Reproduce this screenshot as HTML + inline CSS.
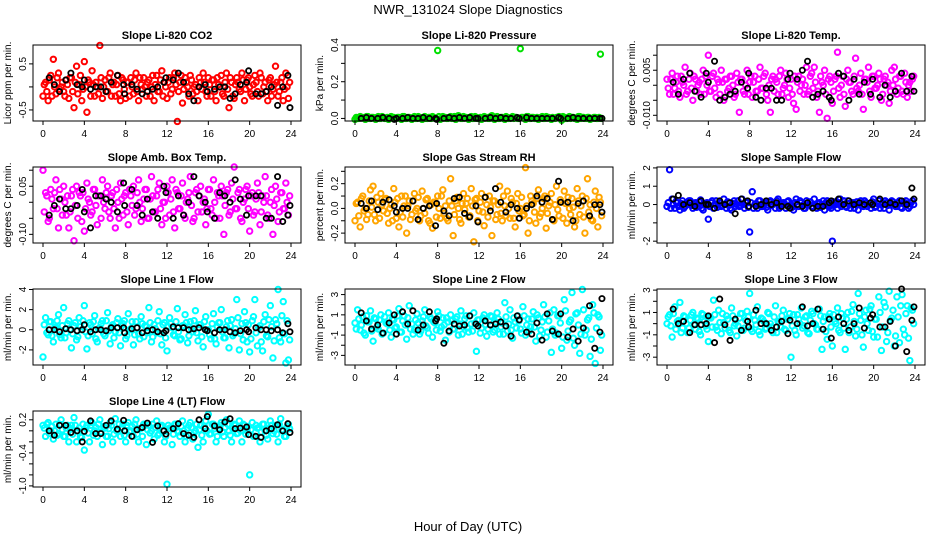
<!DOCTYPE html>
<html><head><meta charset="utf-8"><style>
html,body{margin:0;padding:0;background:#fff;}
svg{display:block;font-family:"Liberation Sans",sans-serif;}
</style></head><body>
<svg id="chart" width="936" height="540" viewBox="0 0 936 540" xmlns="http://www.w3.org/2000/svg">
<rect width="936" height="540" fill="#fff"/>
<text x="468" y="14" text-anchor="middle" font-size="13">NWR_131024  Slope Diagnostics</text>
<text x="468" y="531" text-anchor="middle" font-size="13">Hour of Day (UTC)</text>
</svg>
<script>
const hoursColored = [0,0.25,0.5,0.75,1,1.25,1.5,1.75,2,2.25,2.5,2.75,3,3.25,3.5,3.75,4,4.25,4.5,4.75,5,5.25,5.5,5.75,6,6.25,6.5,6.75,7,7.25,7.5,7.75,8,8.25,8.5,8.75,9,9.25,9.5,9.75,10,10.25,10.5,10.75,11,11.25,11.5,11.75,12,12.25,12.5,12.75,13,13.25,13.5,13.75,14,14.25,14.5,14.75,15,15.25,15.5,15.75,16,16.25,16.5,16.75,17,17.25,17.5,17.75,18,18.25,18.5,18.75,19,19.25,19.5,19.75,20,20.25,20.5,20.75,21,21.25,21.5,21.75,22,22.25,22.5,22.75,23,23.25,23.5,23.75];
const hoursColored2 = [0.12,0.37,0.62,0.87,1.12,1.37,1.62,1.87,2.12,2.37,2.62,2.87,3.12,3.37,3.62,3.87,4.12,4.37,4.62,4.87,5.12,5.37,5.62,5.87,6.12,6.37,6.62,6.87,7.12,7.37,7.62,7.87,8.12,8.37,8.62,8.87,9.12,9.37,9.62,9.87,10.12,10.37,10.62,10.87,11.12,11.37,11.62,11.87,12.12,12.37,12.62,12.87,13.12,13.37,13.62,13.87,14.12,14.37,14.62,14.87,15.12,15.37,15.62,15.87,16.12,16.37,16.62,16.87,17.12,17.37,17.62,17.87,18.12,18.37,18.62,18.87,19.12,19.37,19.62,19.87,20.12,20.37,20.62,20.87,21.12,21.37,21.62,21.87,22.12,22.37,22.62,22.87,23.12,23.37,23.62,23.87];
const hoursBlack = [0.6,1.1,1.6,2.2,2.7,3.3,3.8,4.0,4.6,5.1,5.6,6.1,6.6,7.2,7.8,7.9,8.6,9.1,9.6,10.1,10.6,11.1,11.7,11.9,12.6,13.1,13.6,14.1,14.6,15.1,15.7,15.9,16.6,17.1,17.6,18.1,18.6,19.1,19.7,19.9,20.6,21.1,21.6,22.1,22.7,23.2,23.7,23.9];

const co2Colored = [-0.2,0.1,-0.3,0.25,0.6,-0.15,0.3,0.0,-0.1,0.15,-0.25,0.2,-0.45,0.45,0.05,-0.3,0.55,-0.55,0.1,0.35,-0.2,0.0,0.9,-0.25,0.15,-0.1,0.3,0.05,-0.2,0.25,-0.3,0.15,-0.25,0.1,0.2,-0.15,0.3,-0.3,0.05,0.2,-0.2,0.15,0.0,-0.3,0.25,-0.1,0.35,0.1,-0.25,0.2,-0.05,0.3,-0.75,0.1,-0.35,0.2,0.0,0.25,-0.15,0.05,-0.3,0.1,0.3,-0.1,0.2,-0.2,0.15,-0.3,0.05,0.25,-0.2,0.3,-0.45,0.1,-0.25,0.2,-0.05,0.3,-0.3,0.15,0.0,-0.2,0.25,-0.1,0.3,-0.15,0.1,-0.3,0.2,-0.05,0.45,-0.2,0.1,-0.3,0.3,-0.25];
const co2Colored2 = [0.05,-0.1,0.15,-0.2,0.0,0.2,-0.05,0.1,-0.2,0.05,0.2,-0.1,0.1,-0.15,0.25,-0.05,0.0,0.15,-0.2,0.05,0.1,-0.15,0.2,0.0,-0.1,0.2,-0.2,0.1,0.05,-0.15,0.2,-0.05,0.1,-0.2,0.0,0.15,-0.1,0.2,-0.05,0.0,0.1,-0.2,0.25,0.05,-0.1,0.15,-0.2,0.0,0.1,-0.15,0.2,0.05,-0.1,0.25,-0.05,0.1,-0.2,0.15,0.0,-0.1,0.2,-0.05,0.1,-0.2,0.05,0.15,-0.1,0.2,0.0,-0.15,0.1,-0.05,0.2,-0.2,0.05,0.1,-0.1,0.15,-0.05,0.2,-0.15,0.05,0.1,-0.2,0.2,0.0,-0.1,0.15,-0.2,0.05,0.1,-0.1,0.2,-0.05,0.0,0.1];
const co2Black = [0.2,0.05,-0.1,0.15,0.3,0.05,0.0,0.15,-0.05,0.0,0.0,-0.1,0.1,0.25,0.05,-0.15,0.05,-0.05,-0.15,-0.1,-0.05,0.0,0.1,0.2,0.15,0.3,0.1,-0.15,-0.3,0.0,0.05,-0.1,-0.05,0.0,0.0,-0.25,-0.15,0.05,0.1,0.35,-0.15,-0.15,-0.1,0.0,-0.4,0.0,0.25,-0.45];

const pressColored = [-0.005,0.0,0.01,0.005,-0.005,0.01,0.0,0.005,-0.005,0.01,0.0,0.005,0.0,-0.005,0.01,0.005,0.0,0.005,-0.005,0.01,0.0,0.005,-0.005,0.01,0.0,0.005,-0.005,0.01,0.0,0.005,0.01,0.0,0.37,-0.005,0.01,0.005,0.0,0.01,0.005,-0.005,0.015,0.0,0.01,0.005,-0.005,0.01,0.0,0.005,0.0,-0.005,0.01,0.005,0.0,0.015,-0.005,0.01,0.0,0.005,-0.005,0.005,0.0,0.01,0.005,0.0,0.38,0.005,-0.005,0.01,0.0,0.005,0.0,-0.005,0.005,0.0,0.01,0.005,-0.005,0.0,0.005,0.01,-0.01,0.005,0.0,0.01,0.005,0.0,-0.005,0.01,0.005,0.0,0.005,-0.005,0.0,0.005,0.0,0.35];
const pressColored2 = [0.005,0.0,0.005,0.0,0.01,0.0,0.005,0.0,0.005,0.0,0.01,0.0,0.005,0.0,0.005,0.0,0.005,0.0,0.01,0.0,0.005,0.0,0.005,0.0,0.01,0.0,0.005,0.0,0.005,0.0,0.005,0.0,0.01,0.0,0.005,0.0,0.005,0.0,0.01,0.0,0.005,0.0,0.005,0.0,0.005,0.0,0.01,0.0,0.005,0.0,0.005,0.0,0.01,0.0,0.005,0.0,0.005,0.0,0.01,0.0,0.005,0.0,0.005,0.0,0.005,0.0,0.01,0.0,0.005,0.0,0.005,0.0,0.01,0.0,0.005,0.0,0.005,0.0,0.005,0.0,0.01,0.0,0.005,0.0,0.005,0.0,0.01,0.0,0.005,0.0,0.005,0.0,0.005,0.0,0.005,0.0];
const pressBlack = [0.0,0.005,0.0,0.0,0.005,0.0,-0.005,0.0,0.0,0.005,0.0,0.0,0.005,0.0,0.0,-0.005,0.0,0.005,0.0,0.005,0.0,0.005,0.0,0.0,0.0,0.005,0.0,0.005,0.0,0.0,0.005,0.0,0.005,0.0,0.0,0.0,0.0,0.0,0.005,0.0,0.0,0.005,0.0,0.0,0.0,0.0,0.0,0.0];

const tempColored = [0.002,-0.003,0.004,-0.001,0.003,-0.004,0.001,0.006,-0.002,0.004,-0.005,0.002,0.0,-0.003,0.005,0.003,0.010,-0.002,0.004,-0.004,0.001,0.005,-0.005,0.002,-0.001,0.003,-0.004,0.004,-0.009,0.002,-0.003,0.005,0.001,-0.004,0.003,-0.002,0.006,-0.001,0.004,-0.005,-0.009,0.003,0.002,-0.003,0.005,-0.001,0.004,-0.004,0.002,-0.006,-0.008,0.003,0.0,-0.003,0.006,-0.002,0.004,0.006,-0.004,-0.009,0.001,0.005,-0.011,0.003,-0.006,0.002,0.011,-0.004,0.003,-0.007,0.005,0.001,-0.003,0.009,-0.002,0.004,-0.008,0.002,0.006,-0.004,0.003,-0.001,0.004,-0.005,0.002,0.0,-0.006,0.005,0.006,-0.003,0.003,-0.002,0.004,-0.004,0.001,0.002];
const tempColored2 = [-0.001,0.002,-0.003,0.001,-0.002,0.003,0.0,-0.003,0.002,-0.001,0.003,-0.002,0.001,0.002,-0.003,0.0,-0.002,0.003,-0.001,0.002,-0.003,0.001,0.002,-0.002,0.003,0.0,-0.003,0.001,0.002,-0.002,0.0,-0.003,0.003,0.001,-0.002,0.002,-0.001,0.003,-0.003,0.0,0.002,-0.002,0.001,0.003,-0.003,0.0,0.002,-0.001,-0.003,0.003,0.001,-0.002,0.002,0.0,-0.003,0.003,-0.001,0.001,-0.002,0.003,0.0,-0.003,0.002,0.001,-0.002,0.003,-0.001,0.0,-0.003,0.002,0.001,-0.002,0.003,-0.001,0.0,-0.003,0.002,0.001,-0.002,0.003,-0.001,0.0,0.002,-0.003,0.003,0.001,-0.002,0.0,0.002,-0.001,0.003,-0.003,0.001,0.0,-0.002,0.003];
const tempBlack = [0.001,-0.003,0.002,0.004,-0.002,-0.004,0.004,0.001,0.008,-0.005,-0.004,-0.003,-0.002,0.001,-0.001,0.004,-0.004,-0.005,-0.001,-0.001,-0.005,-0.005,0.002,0.004,0.002,0.005,0.008,-0.004,-0.003,-0.002,-0.004,-0.005,0.004,0.003,-0.005,0.002,-0.003,0.001,-0.003,0.002,-0.004,0.000,-0.004,-0.002,0.004,-0.002,0.003,-0.002];

const boxColored = [0.1,0.03,-0.06,0.04,-0.02,0.07,-0.08,0.01,0.05,-0.04,-0.08,0.02,-0.12,0.05,0.03,-0.06,-0.09,0.06,0.0,-0.03,0.04,-0.07,0.02,0.07,-0.02,0.05,-0.05,0.03,-0.08,0.0,0.06,-0.04,0.03,-0.07,0.02,0.05,-0.02,0.07,-0.06,0.01,0.04,-0.05,0.08,-0.03,0.02,0.06,-0.07,0.0,0.05,-0.04,0.07,-0.08,0.03,-0.02,0.06,-0.05,0.01,0.08,-0.06,0.03,-0.03,0.05,0.0,-0.07,0.04,-0.02,0.07,-0.05,0.02,0.05,-0.1,0.03,-0.04,0.06,0.11,-0.02,0.04,-0.06,0.01,0.05,-0.09,0.03,-0.03,0.06,-0.07,0.02,0.08,-0.04,0.0,-0.1,0.05,-0.06,0.03,-0.02,0.06,-0.04];
const boxColored2 = [-0.03,0.02,-0.05,0.01,0.03,-0.02,0.04,-0.04,0.0,0.02,-0.03,0.04,-0.01,-0.05,0.02,0.03,-0.02,0.01,-0.04,0.04,-0.01,0.02,-0.05,0.0,0.03,-0.03,0.02,-0.02,0.04,-0.05,0.01,0.02,-0.03,0.04,-0.01,-0.04,0.03,0.0,-0.02,0.04,-0.05,0.01,0.02,-0.03,0.04,-0.02,0.0,-0.05,0.03,0.01,-0.03,0.04,-0.02,0.02,-0.04,0.0,0.03,-0.01,-0.05,0.04,0.02,-0.03,0.01,-0.02,0.04,-0.04,0.0,0.03,-0.05,0.02,-0.01,0.04,-0.03,0.01,-0.02,0.03,-0.05,0.0,0.04,-0.02,0.02,-0.04,0.01,0.03,-0.03,0.0,0.02,-0.05,0.04,-0.01,0.01,-0.03,0.03,-0.02,0.0,0.02];
const boxBlack = [-0.04,-0.01,0.01,-0.02,-0.02,-0.01,0.04,-0.03,-0.08,0.02,0.02,0.01,0.0,-0.03,0.06,-0.01,0.04,-0.01,-0.04,0.01,-0.03,-0.05,0.05,0.03,-0.05,0.02,-0.04,0.0,0.08,0.02,0.0,-0.03,-0.05,0.03,0.02,0.0,0.07,0.01,-0.04,0.02,0.02,0.02,-0.05,-0.05,0.08,-0.06,-0.04,-0.01];

const rhColored = [-0.1,0.05,-0.15,0.1,0.0,-0.05,0.15,0.18,-0.1,0.05,0.12,-0.02,0.08,-0.12,0.03,0.16,-0.08,-0.15,0.1,0.02,-0.2,0.06,-0.05,0.12,0.0,-0.1,0.14,-0.04,0.08,-0.12,-0.16,0.05,0.1,-0.08,0.15,0.02,-0.1,0.24,-0.22,0.06,0.0,-0.12,0.12,0.04,-0.07,0.16,-0.27,0.08,-0.02,0.12,-0.14,0.03,0.1,-0.22,0.06,-0.05,0.18,-0.1,0.02,0.14,-0.08,0.05,-0.15,0.12,0.0,-0.06,0.33,-0.2,0.1,0.04,-0.12,0.15,-0.04,0.08,-0.16,0.02,0.12,-0.1,0.18,-0.06,0.05,0.14,-0.12,0.0,0.08,-0.15,0.16,-0.05,0.1,-0.2,0.24,0.03,-0.1,0.14,-0.15,0.05];
const rhColored2 = [0.04,-0.06,0.08,-0.02,-0.09,0.06,0.01,-0.05,0.09,-0.08,0.03,0.07,-0.04,0.0,-0.1,0.05,0.08,-0.03,-0.07,0.1,0.02,-0.09,0.06,-0.02,0.09,-0.06,0.0,0.07,-0.1,0.03,0.05,-0.07,0.0,0.1,-0.04,-0.08,0.06,0.02,-0.05,0.09,-0.09,0.04,-0.01,0.08,-0.06,0.02,0.07,-0.1,0.05,-0.03,0.09,-0.07,0.01,0.06,-0.09,0.03,-0.04,0.1,-0.06,0.0,0.08,-0.08,0.04,-0.02,0.09,-0.05,0.02,-0.1,0.06,-0.03,0.08,-0.07,0.0,0.1,-0.04,0.05,-0.09,0.03,-0.01,0.07,-0.08,0.04,0.09,-0.05,0.01,-0.1,0.06,0.02,-0.07,0.08,-0.03,-0.09,0.05,0.0,0.09,-0.06];
const rhBlack = [0.04,0.0,0.06,-0.01,0.05,0.07,0.02,-0.03,0.0,0.0,0.06,-0.09,0.0,0.02,-0.14,0.04,-0.02,-0.06,0.08,0.09,-0.04,-0.07,0.02,-0.11,0.09,-0.02,0.16,0.05,-0.03,0.03,0.0,-0.08,0.0,0.03,0.1,0.05,0.08,-0.09,0.22,0.05,0.05,-0.1,0.04,0.06,-0.06,0.03,0.03,-0.03];

const sampleColored = [-0.1,1.9,0.3,-0.2,0.1,-0.3,0.2,-0.1,0.0,0.2,-0.2,0.1,-0.1,0.25,-0.3,0.0,-0.8,0.1,-0.2,0.2,0.0,-0.1,0.3,-0.2,0.1,-0.3,0.2,0.0,-0.1,0.3,-0.2,0.1,-1.5,0.7,0.0,-0.2,0.2,-0.1,0.1,-0.3,0.2,0.0,-0.2,0.3,-0.1,0.1,-0.2,0.2,0.0,-0.3,0.3,-0.1,0.1,-0.2,0.2,0.0,-0.1,0.3,-0.2,0.1,0.0,-0.3,0.2,-0.1,-2.0,0.1,-0.2,0.3,0.0,-0.1,0.2,-0.2,0.1,0.0,-0.3,0.2,-0.1,0.1,0.0,-0.2,0.3,-0.1,0.2,0.0,-0.2,0.1,-0.3,0.2,0.0,-0.1,0.2,-0.2,0.1,0.0,-0.1,0.2];
const sampleColored2 = [0.1,-0.2,0.0,0.15,-0.1,0.05,-0.2,0.1,0.2,-0.05,0.0,-0.15,0.15,-0.2,0.05,0.1,-0.1,0.2,0.0,-0.15,0.1,-0.05,0.0,0.15,-0.2,0.05,-0.1,0.2,-0.05,0.0,0.15,-0.15,0.1,-0.2,0.05,0.2,-0.1,0.0,-0.15,0.15,-0.05,0.1,0.2,-0.2,0.0,0.05,0.15,-0.1,-0.15,0.1,0.0,0.2,-0.05,-0.2,0.1,0.15,-0.1,0.0,0.05,-0.15,0.2,0.1,-0.05,-0.2,0.15,0.0,0.1,-0.1,0.2,-0.15,0.05,0.0,-0.2,0.15,0.1,-0.05,0.2,-0.1,0.0,0.15,-0.15,0.05,-0.2,0.1,0.2,-0.05,0.0,0.15,-0.1,0.1,-0.15,0.05,0.2,-0.2,0.1,0.0];
const sampleBlack = [0.3,0.5,0.0,0.1,-0.1,0.2,0.0,0.0,-0.2,0.2,0.0,0.1,-0.5,0.3,0.2,-0.1,-0.1,0.0,0.2,0.0,0.1,-0.1,-0.1,-0.2,0.0,-0.1,0.1,-0.2,-0.1,-0.1,0.1,0.2,0.3,0.0,0.2,0.0,0.1,0.0,0.1,0.0,0.3,0.0,0.1,0.0,0.2,0.0,0.9,0.3];

const line1Colored = [-2.7,1.2,-0.5,0.8,-1.2,0.3,1.5,-0.8,2.2,-0.3,0.9,-1.8,0.4,-1.0,1.2,0.0,2.4,-1.9,0.7,-0.4,1.4,-1.2,0.2,0.9,-0.6,1.7,-1.4,0.5,-0.2,1.1,-1.6,0.6,-0.9,1.6,0.1,-1.5,0.8,-0.4,1.3,-0.7,0.3,2.2,-1.2,0.5,-0.3,1.8,-1.5,0.7,-2.1,1.2,0.2,-0.6,2.1,-1.0,0.4,1.5,-1.3,0.8,-0.2,1.9,-1.1,0.5,-1.7,1.3,0.0,-0.9,1.6,-1.4,0.7,2.0,-0.8,0.3,-1.8,1.0,-0.4,3.0,-2.0,0.6,1.8,-1.2,-2.2,0.9,3.0,-1.6,0.4,-2.1,1.5,-0.7,2.4,-2.8,1.0,4.0,-1.2,2.8,-3.3,-3.0];
const line1Colored2 = [0.5,-0.3,0.8,-0.6,0.2,0.9,-0.5,0.4,-0.8,0.6,0.0,-0.4,0.7,-0.7,0.3,0.9,-0.2,-0.6,0.5,0.8,-0.9,0.1,0.6,-0.4,0.9,-0.1,0.3,-0.8,0.7,-0.3,0.4,0.9,-0.6,0.0,0.8,-0.5,0.2,-0.9,0.6,0.4,-0.3,0.7,-0.7,0.1,0.9,-0.4,0.5,-0.8,0.3,0.6,-0.5,0.8,-0.2,-0.9,0.4,0.7,-0.6,0.1,0.9,-0.3,0.5,-0.7,0.8,0.0,-0.5,0.6,-0.9,0.3,0.7,-0.2,-0.8,0.9,0.4,-0.6,0.1,1.2,-0.4,-1.0,0.7,0.5,-0.9,1.3,-0.3,0.2,-1.2,0.8,-0.6,1.0,0.3,-1.1,0.6,-0.8,1.4,-0.4,0.9,-1.0];
const line1Black = [0.0,0.0,-0.2,0.1,0.0,-0.1,0.0,0.5,-0.2,0.0,0.0,-0.1,0.2,0.2,0.2,-0.3,0.1,0.2,-0.3,-0.1,0.0,-0.2,-0.3,-0.1,0.3,0.2,0.2,0.0,0.1,0.2,0.0,-0.1,-0.3,0.0,0.0,-0.2,-0.3,-0.1,0.0,-0.2,0.2,0.0,0.0,-0.1,0.0,-0.3,0.6,-0.2];

const line2Colored = [0.2,1.5,-0.5,0.8,-1.0,0.3,1.4,-1.6,0.6,-0.4,1.0,-0.8,0.2,1.2,-1.2,0.5,-0.2,1.6,-0.7,0.9,-1.4,1.9,0.1,-0.5,1.1,-0.9,0.4,1.5,-0.3,0.8,-1.2,0.2,1.3,-0.6,0.7,-1.5,0.3,1.0,-0.4,0.6,-1.0,1.4,-0.2,0.9,-0.7,0.1,1.2,-2.6,0.5,-0.3,1.0,-1.1,0.4,0.8,-0.5,1.2,-0.9,0.2,2.2,-0.6,1.5,-1.3,0.3,0.9,-0.4,1.8,-1.0,0.6,-0.2,1.3,-1.6,0.7,-0.5,2.0,-1.2,0.4,-2.7,1.5,-0.8,0.9,-2.3,2.5,-1.5,0.3,3.2,-2.0,1.2,-2.8,3.5,-1.0,0.5,-3.1,2.0,-3.8,1.0,-2.5];
const line2Colored2 = [-0.4,0.6,0.0,-0.8,0.9,0.3,-0.6,0.7,-0.2,0.5,-0.9,0.8,0.1,-0.5,0.6,-0.3,0.9,-0.7,0.4,0.0,0.7,-0.4,-0.9,0.5,0.2,-0.6,0.8,-0.1,-0.8,0.6,0.3,-0.5,0.9,-0.2,0.0,0.7,-0.7,0.4,-0.4,0.8,0.1,-0.9,0.6,-0.3,0.9,-0.6,0.2,0.5,-0.8,0.7,0.0,-0.4,0.9,-0.7,0.3,0.6,-0.2,-0.9,0.8,0.1,-0.5,0.7,-0.3,0.4,-0.8,0.9,0.0,-0.6,0.6,-0.2,1.0,-1.1,0.3,0.8,-0.7,1.2,-0.4,-1.0,0.9,0.2,-1.2,1.4,-0.6,0.5,-1.3,1.1,0.0,-0.9,1.5,-0.5,0.7,-1.4,1.2,-0.3,0.8,-1.0];
const line2Black = [1.2,0.4,-0.4,0.0,-0.8,0.2,1.0,-0.9,1.3,0.1,1.4,-0.5,0.0,1.3,0.4,0.6,-1.8,-0.6,0.1,-0.1,0.0,0.9,0.1,-0.1,0.4,0.0,0.1,0.3,-0.1,-1.1,0.9,0.5,-0.7,-0.9,0.2,-1.5,1.1,-0.6,-0.9,1.1,-1.2,-0.4,-1.6,-0.3,1.9,-2.3,-0.7,2.6];

const line3Colored = [0.0,0.8,-1.2,1.5,0.2,1.9,-0.4,0.6,-0.8,0.3,1.0,-0.5,0.4,-1.0,0.8,-0.2,-1.6,0.5,2.1,-0.3,1.2,-0.9,0.1,0.7,-0.6,1.4,-0.2,-1.1,0.5,0.9,-0.4,1.1,2.7,-0.7,0.3,1.5,-1.0,0.4,-0.5,1.0,0.0,-0.8,1.6,0.2,-0.3,1.2,-0.6,0.5,-3.0,0.8,-1.0,0.4,1.4,-0.2,0.7,-0.9,1.1,0.0,-0.5,1.3,-2.3,0.6,-1.4,0.9,-2.0,0.2,1.4,-0.8,0.5,-2.3,1.0,-0.3,1.7,-1.1,2.7,0.3,-2.1,1.2,-0.6,1.6,-1.2,0.4,2.4,-2.4,1.9,-1.6,2.9,0.5,-2.0,2.4,-1.7,2.6,-1.0,1.6,-3.3,1.2];
const line3Colored2 = [0.6,-0.2,0.9,-0.5,0.3,-0.8,0.7,0.0,-0.4,0.8,-0.1,0.5,-0.7,0.9,0.2,-0.5,0.6,-0.3,0.8,-0.6,0.1,0.9,-0.4,0.4,-0.8,0.7,0.0,-0.2,0.9,-0.6,0.3,0.6,-0.5,0.8,-0.1,-0.7,0.5,0.2,-0.4,0.9,-0.3,0.6,-0.8,0.1,0.7,-0.5,0.4,0.9,-0.2,-0.6,0.8,0.0,-0.4,0.6,-0.8,0.3,0.9,-0.1,-0.5,0.7,0.2,-0.7,0.6,-0.3,0.8,0.0,-0.6,0.9,-0.4,0.4,-0.8,1.1,0.2,-0.5,0.9,-1.0,0.6,0.0,1.3,-0.7,0.4,-1.2,1.0,-0.3,1.5,-0.8,0.3,1.2,-1.1,0.6,1.6,-0.5,0.9,-1.3,1.4,0.0];
const line3Black = [1.3,0.0,0.2,-0.8,-0.1,-0.1,0.0,0.7,-1.7,2.2,-0.1,-1.5,0.4,-0.6,0.2,-0.3,1.2,0.0,0.0,-0.6,-0.3,0.2,-0.9,0.3,0.0,1.5,-0.2,0.0,1.3,-0.5,0.4,-1.3,0.6,0.0,-0.6,0.0,1.4,-0.4,0.5,0.8,-0.3,-0.3,0.2,-2.0,3.1,-2.5,0.3,1.5];

const line4Colored = [0.1,-0.1,0.15,0.0,-0.15,0.12,-0.05,0.2,-0.1,0.05,-0.2,0.1,0.24,-0.2,0.05,-0.12,-0.35,0.1,-0.2,0.15,0.0,-0.1,0.2,-0.25,0.05,-0.1,0.15,-0.2,0.22,0.0,-0.1,0.12,-0.2,0.15,0.0,-0.1,0.2,-0.2,0.05,0.12,-0.25,0.1,0.0,-0.15,0.18,-0.05,0.1,-0.2,-0.97,0.05,-0.25,0.12,0.0,-0.1,0.18,-0.2,0.05,0.15,-0.15,0.0,-0.3,0.1,-0.2,0.18,0.3,-0.05,0.12,-0.2,0.05,0.15,-0.1,0.2,0.0,-0.2,0.12,-0.05,0.18,-0.2,0.1,0.0,-0.8,0.15,-0.1,0.05,-0.2,0.12,0.0,-0.15,0.18,-0.05,0.1,-0.2,0.22,0.0,-0.1,0.12];
const line4Colored2 = [0.05,0.12,-0.05,0.08,0.0,-0.08,0.12,0.02,-0.1,0.1,0.04,-0.06,0.1,0.0,-0.1,0.12,0.05,-0.04,0.1,-0.08,0.06,0.12,-0.02,0.08,-0.1,0.04,0.1,-0.06,0.0,0.12,0.06,-0.08,0.1,-0.02,0.08,0.12,-0.06,0.04,-0.1,0.1,0.02,-0.04,0.12,0.06,-0.08,0.08,0.0,-0.1,0.1,0.04,-0.06,0.12,-0.02,0.08,0.0,-0.1,0.1,0.06,-0.04,0.12,0.02,-0.08,0.08,0.0,-0.06,0.12,0.04,-0.1,0.1,-0.02,0.06,0.12,-0.08,0.04,0.1,-0.04,0.0,0.12,-0.06,0.08,0.02,-0.1,0.1,0.06,-0.02,0.12,-0.08,0.04,0.1,0.0,-0.06,0.12,0.02,-0.1,0.08,0.04];
const line4Black = [0.0,-0.08,0.1,0.1,-0.03,0.0,-0.2,-0.01,0.18,-0.05,-0.05,0.1,0.18,0.03,0.19,0.0,-0.1,0.02,0.06,0.14,-0.21,0.09,0.0,-0.06,0.04,0.13,-0.05,-0.08,-0.12,0.2,0.04,0.26,0.09,0.02,0.16,0.22,0.04,0.05,0.07,-0.07,-0.1,-0.12,0.0,0.04,0.11,0.0,0.13,-0.03];

const panelTitles = ["Slope Li-820 CO2","Slope Li-820 Pressure","Slope Li-820 Temp.","Slope Amb. Box Temp.","Slope Gas Stream RH","Slope Sample Flow","Slope Line 1 Flow","Slope Line 2 Flow","Slope Line 3 Flow","Slope Line 4 (LT) Flow"];
const yTitles = ["Licor ppm per min.","kPa per min.","degrees C per min.","degrees C per min.","percent per min.","ml/min per min.","ml/min per min.","ml/min per min.","ml/min per min.","ml/min per min."];
const xTicks = [0,4,8,12,16,20,24];

const panels = [
 {c:0,r:0,top:0.91,bot:-0.74,ticks:[-0.5,0,0.5],labels:{"-0.5":"-0.5","0.5":"0.5"},col:"#ff0000",cd:co2Colored,cd2:co2Colored2,bd:co2Black,name:"co2"},
 {c:1,r:0,top:0.4,bot:-0.014,ticks:[0,0.1,0.2,0.3,0.4],labels:{"0":"0.0","0.2":"0.2","0.4":"0.4"},col:"#00e000",cd:pressColored,cd2:pressColored2,bd:pressBlack,name:"pressure"},
 {c:2,r:0,top:0.0134,bot:-0.0119,ticks:[-0.01,-0.005,0,0.005,0.01],labels:{"-0.01":"-0.010","0.005":"0.005"},col:"#ff00ff",cd:tempColored,cd2:tempColored2,bd:tempBlack,name:"li820-temp"},
 {c:0,r:1,top:0.11,bot:-0.127,ticks:[-0.1,-0.05,0,0.05,0.1],labels:{"-0.1":"-0.10","0.05":"0.05"},col:"#ff00ff",cd:boxColored,cd2:boxColored2,bd:boxBlack,name:"box-temp"},
 {c:1,r:1,top:0.335,bot:-0.28,ticks:[-0.2,-0.1,0,0.1,0.2,0.3],labels:{"-0.2":"-0.2","0":"0.0","0.2":"0.2"},col:"#ffa500",cd:rhColored,cd2:rhColored2,bd:rhBlack,name:"rh"},
 {c:2,r:1,top:2.05,bot:-2.1,ticks:[-2,-1,0,1,2],labels:{"-2":"-2","0":"0","1":"1","2":"2"},col:"#0000ff",cd:sampleColored,cd2:sampleColored2,bd:sampleBlack,name:"sample-flow"},
 {c:0,r:2,top:4.05,bot:-3.5,ticks:[-2,0,2,4],labels:{"-2":"-2","0":"0","2":"2","4":"4"},col:"#00ffff",cd:line1Colored,cd2:line1Colored2,bd:line1Black,name:"line1-flow"},
 {c:1,r:2,top:3.55,bot:-3.95,ticks:[-3,-2,-1,0,1,2,3],labels:{"-3":"-3","-1":"-1","1":"1","3":"3"},col:"#00ffff",cd:line2Colored,cd2:line2Colored2,bd:line2Black,name:"line2-flow"},
 {c:2,r:2,top:3.1,bot:-3.7,ticks:[-3,-2,-1,0,1,2,3],labels:{"-3":"-3","-1":"-1","1":"1","3":"3"},col:"#00ffff",cd:line3Colored,cd2:line3Colored2,bd:line3Black,name:"line3-flow"},
 {c:0,r:3,top:0.36,bot:-1.02,ticks:[-1,-0.8,-0.6,-0.4,-0.2,0,0.2],labels:{"-1":"-1.0","-0.4":"-0.4","0.2":"0.2"},col:"#00ffff",cd:line4Colored,cd2:line4Colored2,bd:line4Black,name:"line4-flow"}
];

const NS = "http://www.w3.org/2000/svg";
const svg = document.getElementById("chart");
function mk(tag, attrs, parent){
  const e = document.createElementNS(NS, tag);
  for (const k in attrs) e.setAttribute(k, attrs[k]);
  (parent||svg).appendChild(e);
  return e;
}

panels.forEach((p, i) => {
  const L = 33 + 312*p.c, R = 301 + 312*p.c;
  const T = 45 + 122*p.r, B = 121 + 122*p.r;
  const x0 = 43 + 312*p.c, x1 = 291 + 312*p.c;
  const xs = h => x0 + (x1 - x0) * h / 24;
  const ys = v => T + (p.top - v) / (p.top - p.bot) * (B - T);

  const g = mk("g", {});
  
  

  const title = mk("text", {x:(L+R)/2, y:T-6, "text-anchor":"middle", "font-size":"11", "font-weight":"bold"}, g);
  title.textContent = panelTitles[i];
  
  

  const pts = mk("g", {}, g);
  
  
  p.cd2.forEach((v, j) => {
    const c = mk("circle", {cx:xs(hoursColored2[j]), cy:ys(v), r:2.7, fill:"none", stroke:p.col, "stroke-width":2}, pts);
    
    
  });
  p.cd.forEach((v, j) => {
    const c = mk("circle", {cx:xs(hoursColored[j]), cy:ys(v), r:2.7, fill:"none", stroke:p.col, "stroke-width":2}, pts);
    
    
  });
  const bpts = mk("g", {}, g);
  
  
  p.bd.forEach((v, j) => {
    const c = mk("circle", {cx:xs(hoursBlack[j]), cy:ys(v), r:2.6, fill:"none", stroke:"#000", "stroke-width":1.8}, bpts);
    
    
  });

  const box = mk("rect", {x:L, y:T, width:R-L, height:B-T, fill:"none", stroke:"#000", "stroke-width":1}, g);
  
  

  xTicks.forEach(t => {
    const tk = mk("line", {x1:xs(t), x2:xs(t), y1:B, y2:B+4, stroke:"#000"}, g);
    
    
    const lb = mk("text", {x:xs(t), y:B+16, "text-anchor":"middle", "font-size":"10"}, g);
    lb.textContent = String(t);
    
    
  });
  p.ticks.forEach(t => {
    const y = ys(t);
    const tk = mk("line", {x1:L-4, x2:L, y1:y, y2:y, stroke:"#000"}, g);
    
    
    const key = String(t);
    if (p.labels[key] !== undefined) {
      const lb = mk("text", {x:L-7, y:y, "text-anchor":"middle", "font-size":"10", transform:`rotate(-90 ${L-7} ${y})`}, g);
      lb.textContent = p.labels[key];
      
      
    }
  });
  const yt = mk("text", {x:L-22, y:(T+B)/2, "text-anchor":"middle", "font-size":"10", transform:`rotate(-90 ${L-22} ${(T+B)/2})`}, g);
  yt.textContent = yTitles[i];
  
  
});
</script>
</body></html>
